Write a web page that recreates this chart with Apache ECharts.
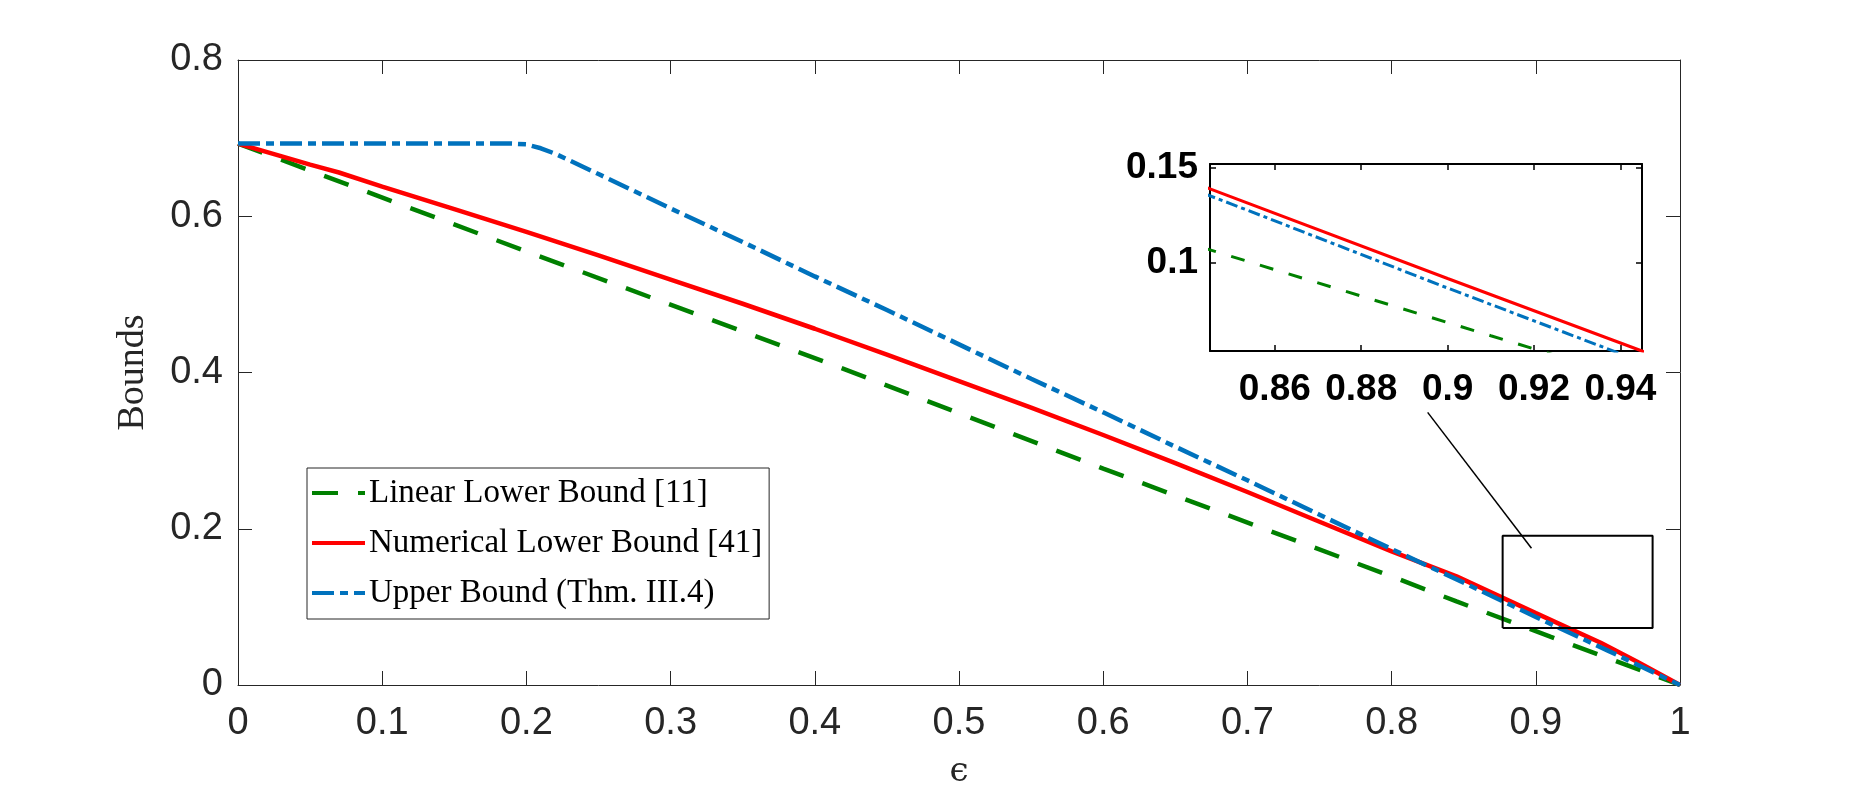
<!DOCTYPE html>
<html>
<head>
<meta charset="utf-8">
<title>Bounds vs epsilon</title>
<script src="https://cdn.jsdelivr.net/npm/echarts@6/dist/echarts.min.js"></script>
<style>
  html, body { margin: 0; padding: 0; background: #fff; }
  #chart { width: 1862px; height: 801px; }
</style>
</head>
<body>
<div id="chart"></div>
<script>
// values
const linearX = [0, 0.2, 0.416, 0.6, 0.8, 0.845, 0.91, 1];
const linearY = [0.693, 0.555, 0.4075, 0.277, 0.139, 0.107, 0.062, 0];

const numericalX = [0, 0.05, 0.07, 0.1, 0.15, 0.2, 0.25, 0.3, 0.35, 0.4, 0.45, 0.5, 0.55, 0.6, 0.65,
  0.7, 0.75, 0.8, 0.845, 0.9, 0.945, 0.97, 1];
const numericalY = [0.693, 0.666, 0.656, 0.638, 0.609, 0.58, 0.55, 0.519, 0.488, 0.456, 0.423, 0.389, 0.355, 0.32, 0.284,
  0.247, 0.209, 0.171, 0.139, 0.092, 0.054, 0.03, 0];

const upperX = [0, 0.1, 0.19, 0.2, 0.21, 0.22, 0.25, 0.3, 0.35, 0.4, 0.45, 0.5, 0.55, 0.6, 0.65,
  0.7, 0.75, 0.8, 0.85, 0.9, 0.95, 1];
const upperY = [0.693, 0.693, 0.693, 0.692, 0.687, 0.68, 0.654, 0.61, 0.567, 0.523, 0.48, 0.436, 0.392, 0.349, 0.305,
  0.262, 0.218, 0.174, 0.131, 0.087, 0.044, 0];

// zoom rectangle and pointer line (data coords of main axes)
const boxX = [0.877, 0.981];
const boxY = [0.073, 0.191];
const pointerX = [0.825, 0.897];
const pointerY = [0.349, 0.175];

const insetXTicks = [0.86, 0.88, 0.9, 0.92, 0.94];
const insetYTicks = [0.1, 0.15];

const names = ["Linear Lower Bound [11]", "Numerical Lower Bound [41]", "Upper Bound (Thm. III.4)"];

const zip = (xs, ys) => xs.map((x, i) => [x, ys[i]]);

const axisColor = "#262626";
const sans = "Liberation Sans";
const serif = "Liberation Serif";

const chart = echarts.init(document.getElementById("chart"));

function curve(name, xs, ys, color, width, dash, idx) {
  return {
    name: name,
    type: "line",
    xAxisIndex: idx,
    yAxisIndex: idx,
    data: zip(xs, ys),
    symbol: "none",
    clip: true,
    silent: true,
    lineStyle: { color: color, width: width, type: dash },
    itemStyle: { color: color },
  };
}

const mainTick = { inside: true, length: 14, lineStyle: { color: axisColor, width: 1 } };
const mainLine = { show: true, onZero: false, lineStyle: { color: axisColor, width: 1 } };
const insetTick = { inside: true, length: 6, lineStyle: { color: "#000", width: 1.5 } };
const insetLine = { show: true, onZero: false, lineStyle: { color: "#000", width: 2 } };

let option = {
  animation: false,
  backgroundColor: "#fff",
  grid: [
    { left: 238, top: 60, width: 1442, height: 625, outerBoundsMode: "none", containLabel: false },
    { left: 1210, top: 164, width: 432, height: 187, outerBoundsMode: "none", containLabel: false,
      show: true, backgroundColor: "#fff", borderWidth: 0 },
  ],
  xAxis: [
    {
      type: "value", gridIndex: 0, min: 0, max: 1, interval: 0.1,
      axisLine: mainLine, axisTick: mainTick, splitLine: { show: false },
      axisLabel: { fontFamily: sans, fontSize: 38, color: axisColor, margin: 20 },
      name: "\u03F5", nameLocation: "middle", nameGap: 70,
      nameTextStyle: { fontFamily: "DejaVu Serif", fontSize: 34, color: axisColor },
    },
    {
      type: "value", gridIndex: 0, min: 0, max: 1, interval: 0.1, position: "top",
      axisLine: mainLine, axisTick: mainTick, splitLine: { show: false },
      axisLabel: { show: false },
    },
    {
      type: "value", gridIndex: 1, min: 0.845, max: 0.945,
      axisLine: insetLine, splitLine: { show: false },
      axisTick: Object.assign({ customValues: insetXTicks }, insetTick),
      axisLabel: { customValues: insetXTicks, fontFamily: sans, fontWeight: "bold", fontSize: 37,
        color: "#000", margin: 20 },
    },
    {
      type: "value", gridIndex: 1, min: 0.845, max: 0.945, position: "top",
      axisLine: insetLine, splitLine: { show: false },
      axisTick: Object.assign({ customValues: insetXTicks }, insetTick),
      axisLabel: { show: false },
    },
  ],
  yAxis: [
    {
      type: "value", gridIndex: 0, min: 0, max: 0.8, interval: 0.2,
      axisLine: mainLine, axisTick: mainTick, splitLine: { show: false },
      axisLabel: { fontFamily: sans, fontSize: 38, color: axisColor, margin: 15 },
      name: "Bounds", nameLocation: "middle", nameGap: 86,
      nameTextStyle: { fontFamily: serif, fontSize: 38, color: axisColor },
    },
    {
      type: "value", gridIndex: 0, min: 0, max: 0.8, interval: 0.2, position: "right",
      axisLine: mainLine, axisTick: mainTick, splitLine: { show: false },
      axisLabel: { show: false },
    },
    {
      type: "value", gridIndex: 1, min: 0.054, max: 0.152,
      axisLine: insetLine, splitLine: { show: false },
      axisTick: Object.assign({ customValues: insetYTicks }, insetTick),
      axisLabel: { customValues: insetYTicks, fontFamily: sans, fontWeight: "bold", fontSize: 37,
        color: "#000", margin: 12 },
    },
    {
      type: "value", gridIndex: 1, min: 0.054, max: 0.152, position: "right",
      axisLine: insetLine, splitLine: { show: false },
      axisTick: Object.assign({ customValues: insetYTicks }, insetTick),
      axisLabel: { show: false },
    },
  ],
  legend: {
    data: names,
    orient: "vertical",
    left: 307,
    top: 468,
    padding: [5, 7, 6, 3],
    itemGap: 10,
    itemWidth: 53,
    itemHeight: 14,
    backgroundColor: "#fff",
    borderColor: axisColor,
    borderWidth: 1,
    borderRadius: 0,
    selectedMode: false,
    itemStyle: { opacity: 0, borderWidth: 0 },
    lineStyle: { width: 4 },
    textStyle: { fontFamily: serif, fontSize: 33, color: "#000", lineHeight: 40, padding: [0, 0, 0, -1] },
  },
  series: [
    curve(names[0], linearX, linearY, "#008000", 4.5, [26, 20], 0),
    curve(names[1], numericalX, numericalY, "#FF0000", 4.5, "solid", 0),
    curve(names[2], upperX, upperY, "#0072BD", 4.5, [22, 6, 8, 6], 0),
    curve(names[0], linearX, linearY, "#008000", 3, [14, 16], 2),
    curve(names[1], numericalX, numericalY, "#FF0000", 3, "solid", 2),
    curve(names[2], upperX, upperY, "#0072BD", 3, [12, 4, 4, 4], 2),
    {
      name: "zoom box",
      type: "line",
      xAxisIndex: 0,
      yAxisIndex: 0,
      data: [[boxX[0], boxY[0]], [boxX[1], boxY[0]], [boxX[1], boxY[1]], [boxX[0], boxY[1]], [boxX[0], boxY[0]]],
      symbol: "none",
      silent: true,
      z: 5,
      lineStyle: { color: "#000", width: 2 },
    },
    {
      name: "pointer",
      type: "line",
      xAxisIndex: 0,
      yAxisIndex: 0,
      data: zip(pointerX, pointerY),
      symbol: "none",
      silent: true,
      clip: false,
      z: 5,
      lineStyle: { color: "#000", width: 1.5 },
    },
  ],
};

chart.setOption(option);
</script>
</body>
</html>
